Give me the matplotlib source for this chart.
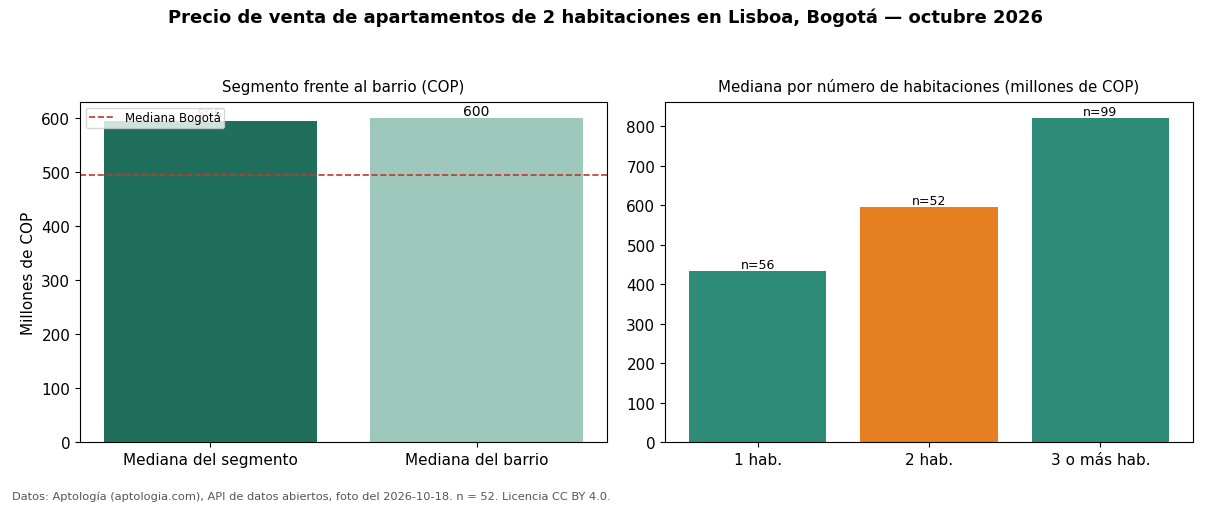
import matplotlib
matplotlib.use("Agg")
import matplotlib.pyplot as plt
import numpy as np

plt.rcParams['font.family'] = ['DejaVu Sans']

seg_labels = ["Mediana del segmento", "Mediana del barrio"]
seg_values = [595, 600]
seg_colors = ["#1f6f5c", "#9dc8bb"]
bogota_median = 495

hab_labels = ["1 hab.", "2 hab.", "3 o más hab."]
hab_values = [433, 595, 820]
hab_n = [56, 52, 99]
hab_colors = ["#2e8b78", "#e67e22", "#2e8b78"]

fig = plt.figure(figsize=(12.1, 5.06), dpi=100)
ax1 = fig.add_axes([80/1210, 1-443/506, 527/1210, 340/506])
ax2 = fig.add_axes([665/1210, 1-443/506, 528/1210, 340/506])

x1 = np.arange(len(seg_labels))
ax1.bar(x1, seg_values, width=0.8, color=seg_colors)
ax1.set_xticks(x1)
ax1.set_xticklabels(seg_labels, fontsize=11)
ax1.tick_params(axis='y', labelsize=11)
label_colors = ["#888888", "black"]
for xi, v, c in zip(x1, seg_values, label_colors):
    ax1.text(xi, v, f"{v}", ha="center", va="bottom", fontsize=10, color=c)
ax1.axhline(bogota_median, color="#c0392b", linestyle="--", linewidth=1.2, label="Mediana Bogotá")
ax1.legend(loc="upper left", fontsize=8.5, framealpha=0.8, borderpad=0.3, handlelength=2.2)
ax1.set_ylabel("Millones de COP", fontsize=11)
ax1.set_title("Segmento frente al barrio (COP)", fontsize=10.8, pad=8)

x2 = np.arange(len(hab_labels))
ax2.bar(x2, hab_values, width=0.8, color=hab_colors)
ax2.set_xticks(x2)
ax2.set_xticklabels(hab_labels, fontsize=11)
ax2.tick_params(axis='y', labelsize=11)
for xi, v, n in zip(x2, hab_values, hab_n):
    ax2.text(xi, v, f"n={n}", ha="center", va="bottom", fontsize=9)
ax2.set_title("Mediana por número de habitaciones (millones de COP)", fontsize=10.8, pad=8)

fig.suptitle("Precio de venta de apartamentos de 2 habitaciones en Lisboa, Bogotá — octubre 2026",
             fontsize=13, fontweight="bold", y=1-18/506, va="center")
fig.text(12/1210, 1-497/506, "Datos: Aptología (aptologia.com), API de datos abiertos, foto del 2026-10-18. n = 52. Licencia CC BY 4.0.",
         fontsize=8.2, color="#555555", va="center", ha="left")

fig.savefig("out.png", dpi=100)
